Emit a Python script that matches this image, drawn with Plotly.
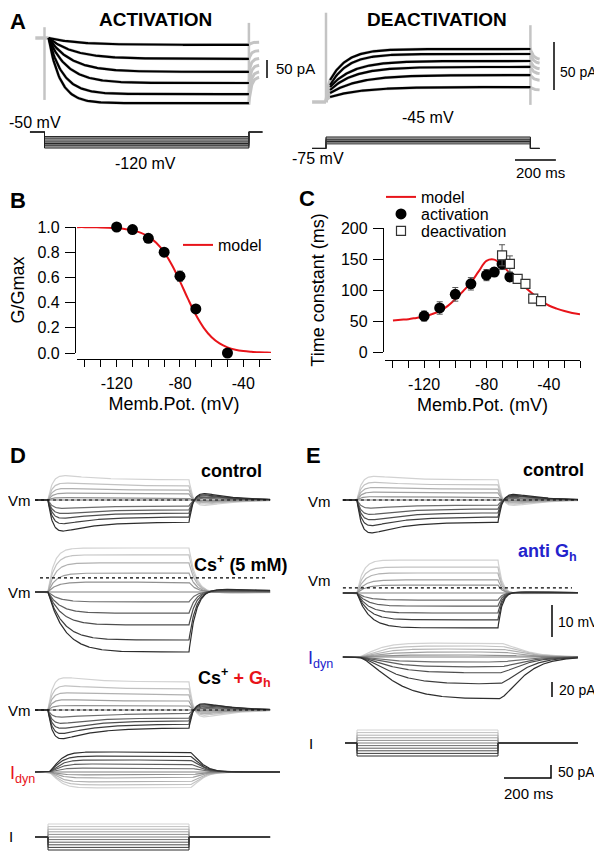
import numpy as np
import plotly.graph_objects as go

W, H = 602, 852
OX, OY = 8, 8          # page body margin: positions below are given in window pixels
FONT = "Liberation Sans, Arial, Helvetica, sans-serif"
RED = "#e8141a"
BLUE = "#2323cc"
GRAY = "#c4c4c4"

# ===================== DATA =====================
# ---- Panel A : activation (steps from -50 mV) ----
ACT_HOLD_MV = -50
ACT_STEP_MV = [-70, -80, -90, -100, -110, -120]
ACT_SS_PA = [-19, -58, -94, -125, -156, -181]        # steady-state of fitted current
ACT_TAU_MS = [141, 124, 110, 92, 70, 57]             # fitted time constants
ACT_PROTO_MV = [-70, -75, -80, -85, -90, -95, -100, -105, -110, -115, -120]

# ---- Panel A : deactivation ----
DEA_PRE_MV = -95
DEA_STEP_MV = [-70, -65, -60, -55, -50, -45]
DEA_START_PA = [5.2, 9.4, 12.5, 15.6, 17.7, 22.9]
DEA_SS_PA = [15.6, 28.1, 36.5, 42.7, 50.0, 55.2]
DEA_TAU_MS = [156, 142, 118, 110, 86, 82]
DEA_PROTO_MV = [-75, -70, -65, -60, -55, -50, -45]
STEP_A_MS = 1000
FIT_START_MS = 20

# ---- Panel B ----
B_V = [-120, -110, -100, -90, -80, -70, -50]
B_G = [1.00, 0.98, 0.91, 0.80, 0.61, 0.35, 0.00]
B_G_ERR = [0.01, 0.01, 0.02, 0.03, 0.04, 0.02, 0.01]
B_MODEL_V = [-145, -140, -135, -130, -125, -120, -115, -110, -105, -100, -95, -90, -85,
             -80, -75, -70, -65, -60, -55, -50, -45, -40, -35, -30, -25, -22]
B_MODEL_G = [0.999, 0.999, 0.998, 0.997, 0.995, 0.991, 0.985, 0.974, 0.955, 0.924, 0.875,
             0.800, 0.697, 0.569, 0.431, 0.303, 0.200, 0.125, 0.076, 0.045, 0.026, 0.015,
             0.009, 0.005, 0.003, 0.002]
B_XTICKS = [-120, -80, -40]
B_XMINOR = [-140, -130, -120, -110, -100, -90, -80, -70, -60, -50, -40, -30]
B_YTICKS = [0.0, 0.2, 0.4, 0.6, 0.8, 1.0]

# ---- Panel C ----
C_ACT_V = [-120, -110, -100, -90, -80, -75, -70, -65]
C_ACT_TAU = [58, 71, 93, 110, 124, 129, 142, 121]
C_ACT_ERR = [8, 10, 11, 10, 9, 7, 9, 7]
C_DEA_V = [-70, -65, -60, -55, -50, -45]
C_DEA_TAU = [156, 142, 118, 110, 86, 82]
C_DEA_ERR = [17, 13, 5, 4, 3, 3]
C_MODEL_V = [-140, -135, -130, -125, -120, -115, -110, -105, -100, -95, -90, -85, -80,
             -75, -70, -65, -60, -55, -50, -45, -40, -35, -30, -25, -20]
C_MODEL_TAU = [51, 52, 53, 55, 57, 61, 66, 74, 85, 98, 112, 130, 147,
               149, 140, 127, 116, 104, 93, 83, 75, 70, 66, 63, 61]
C_XTICKS = [-120, -80, -40]
C_XMINOR = [-140, -130, -120, -110, -100, -90, -80, -70, -60, -50, -40, -30, -20]
C_YTICKS = [0, 50, 100, 150, 200]

# ---- Panels D / E (11 current steps) ----
I_INJ_PA = [50, 40, 30, 20, 10, 0, -10, -20, -30, -40, -50]
STEP_DE_MS = 600
D_CTRL_SS = [6.3, 4.4, 3.1, 1.9, 0.6, 0.0, -1.9, -3.1, -4.1, -5.3, -6.9]
D_CTRL_SAG = [2.7, 1.8, 1.1, 0.5, 0.3, 0.0, -1.4, -2.2, -3.1, -4.1, -5.4]
D_CTRL_REB = [-3.8, -2.8, -2.0, -1.3, -0.5, 0.0, 1.2, 2.0, 2.8, 3.6, 4.4]
D_CS_SS = [13.75, 11.6, 9.1, 5.9, 3.1, 0.0, -3.1, -6.6, -10.3, -15.0, -18.75]
D_CS_TAU = [25, 27, 30, 33, 36, 40, 45, 50, 57, 63, 70]
D_CS_REB = [-0.6, -0.5, -0.4, -0.3, -0.1, 0.0, 0.4, 0.7, 1.0, 1.3, 1.6]
D_CS_REST_SHIFT = 4.4          # dotted line = control resting potential
D_GH_SS = [8.75, 6.6, 4.7, 2.8, 1.25, 0.0, -1.25, -2.5, -3.4, -4.4, -5.6]
D_GH_SAG = [2.9, 2.0, 1.4, 0.9, 0.3, 0.0, -1.8, -3.1, -4.3, -5.5, -6.3]
D_GH_REB = [-4.8, -3.6, -2.6, -1.6, -0.7, 0.0, 1.0, 1.9, 2.7, 3.5, 4.2]
D_IDYN_PA = [-21.3, -17.3, -13.3, -8.0, -4.0, 0.0, 5.3, 10.7, 16.0, 21.3, 26.7]

E_CTRL_SS = [6.3, 4.7, 3.4, 2.2, 0.9, 0.0, -1.6, -2.8, -4.0, -5.3, -6.9]
E_CTRL_SAG = [2.3, 1.7, 1.1, 0.6, 0.3, 0.0, -1.8, -3.2, -4.1, -5.1, -6.4]
E_CTRL_REB = [-3.8, -2.9, -2.1, -1.4, -0.6, 0.0, 1.0, 1.7, 2.5, 3.2, 3.9]
E_ANTI_SS = [10.3, 8.1, 6.25, 4.1, 2.5, 0.0, -2.2, -4.1, -6.25, -8.4, -10.9]
E_ANTI_TAU = [25, 27, 30, 33, 36, 40, 42, 44, 46, 48, 50]
E_ANTI_REB = [-0.3, -0.25, -0.2, -0.15, -0.05, 0.0, 0.1, 0.2, 0.3, 0.4, 0.5]
E_ANTI_REST_SHIFT = 1.6
E_IDYN_PA = [18.7, 14.7, 10.7, 6.7, 2.7, 0.0, -6.7, -13.3, -21.3, -36.0, -56.0]
E_IDYN_TAU = [45, 48, 52, 56, 60, 60, 65, 70, 74, 77, 80]

# scale bars
SB_A_ACT_PA = 50
SB_A_DEA_PA = 50
SB_A_MS = 200
SB_E_MV = 10
SB_E_IDYN_PA = 20
SB_E_I_PA = 50
SB_E_MS = 200

# ===================== FIGURE =====================
fig = go.Figure()
layout = {}
axes = {}
counter = [0]


def fx(xpx):
    return (xpx - OX) / W


def fy(ypx):
    return 1 - (ypx - OY) / H


def new_axes(name, t0px, sx, y0px, sy):
    """Hidden full-figure axes whose scale maps data units to window pixels."""
    counter[0] += 1
    n = counter[0]
    sfx = "" if n == 1 else str(n)
    t0 = t0px - OX
    y0 = y0px - OY
    layout["xaxis" + sfx] = dict(domain=[0, 1], range=[-t0 / sx, (W - t0) / sx],
                                 visible=False, fixedrange=True, anchor="y" + sfx,
                                 automargin=False)
    layout["yaxis" + sfx] = dict(domain=[0, 1], range=[(y0 - H) / sy, y0 / sy],
                                 visible=False, fixedrange=True, anchor="x" + sfx,
                                 automargin=False)
    axes[name] = dict(x="x" + sfx, y="y" + sfx, t0px=t0px, sx=sx, y0px=y0px, sy=sy)


def px_t(name, xpx):
    a = axes[name]
    return (xpx - a["t0px"]) / a["sx"]


def px_v(name, ypx):
    a = axes[name]
    return (a["y0px"] - ypx) / a["sy"]


def line(name, x, y, color="black", width=1.2, dash=None, shape="linear"):
    a = axes[name]
    fig.add_trace(go.Scatter(x=x, y=y, mode="lines", xaxis=a["x"], yaxis=a["y"],
                             line=dict(color=color, width=width, dash=dash, shape=shape),
                             showlegend=False, hoverinfo="skip"))


def shade(i, n=11):
    g = int(round(210 - i * (210 - 45) / (n - 1)))
    return "rgb(%d,%d,%d)" % (g, g, g)


# ---- A activation ----
SX_A = 0.2044
new_axes("act", 44.5, SX_A, 38, 0.36)
new_axes("actV", 44.5, SX_A, 132 - 50 * 0.229, 0.229)
new_axes("dea", 326, SX_A, 102, 0.96)
new_axes("deaV", 326, SX_A, 137 - 45 * 0.229, 0.229)

t_fit = np.linspace(FIT_START_MS, STEP_A_MS, 200)
# gray raw traces
line("act", [0, 0], [30, -172], GRAY, 2.5)
line("act", [STEP_A_MS, STEP_A_MS], [42, -186], GRAY, 2.5)
line("act", [-45, FIT_START_MS], [0, 0], GRAY, 3.5)
for ss, tau in zip(ACT_SS_PA, ACT_TAU_MS):
    fit = ss * (1 - np.exp(-(t_fit - FIT_START_MS) / tau))
    tt = np.linspace(0, 50, 20)
    tail = ss * (0.6 + 0.4 * np.exp(-tt / 12))
    x = np.concatenate([t_fit, STEP_A_MS + tt])
    y = np.concatenate([fit, tail])
    line("act", x, y, GRAY, 3.0)
for ss, tau in zip(ACT_SS_PA, ACT_TAU_MS):
    fit = ss * (1 - np.exp(-(t_fit - FIT_START_MS) / tau))
    line("act", t_fit, fit, "black", 2.2)
# protocol
for k, v in enumerate(ACT_PROTO_MV):
    line("actV", [-71, 0, 0, STEP_A_MS, STEP_A_MS, 1065],
         [ACT_HOLD_MV, ACT_HOLD_MV, v, v, ACT_HOLD_MV, ACT_HOLD_MV],
         "#1a1a1a" if k % 2 == 0 else "#666666", 1.0)
# scale bar
tb = px_t("act", 267)
yb = px_v("act", 78)
line("act", [tb, tb], [yb, yb + SB_A_ACT_PA], "black", 1.5)

# ---- A deactivation ----
line("dea", [0, 0], [0, 93], GRAY, 2.5)
line("dea", [STEP_A_MS, STEP_A_MS], [80, -3], GRAY, 2.5)
line("dea", [-68, 0], [0, 0], GRAY, 3.5)
for st, ss, tau in zip(DEA_START_PA, DEA_SS_PA, DEA_TAU_MS):
    fit = ss + (st - ss) * np.exp(-(t_fit - FIT_START_MS) / tau)
    tt = np.linspace(0, 45, 20)
    tail = ss * (0.8 + 0.2 * np.exp(-tt / 15))
    x = np.concatenate([[0, 6], t_fit, STEP_A_MS + tt])
    y = np.concatenate([[0, st * 0.6], fit, tail])
    line("dea", x, y, GRAY, 3.0)
for st, ss, tau in zip(DEA_START_PA, DEA_SS_PA, DEA_TAU_MS):
    fit = ss + (st - ss) * np.exp(-(t_fit - FIT_START_MS) / tau)
    line("dea", t_fit, fit, "black", 2.2)
for k, v in enumerate(DEA_PROTO_MV):
    line("deaV", [-68, 0, 0, STEP_A_MS, STEP_A_MS, 1045],
         [DEA_PRE_MV, DEA_PRE_MV, v, v, DEA_PRE_MV, DEA_PRE_MV],
         "#1a1a1a" if k % 2 == 0 else "#666666", 1.0)
tb = px_t("dea", 554)
yb = px_v("dea", 90)
line("dea", [tb, tb], [yb, yb + SB_A_DEA_PA], "black", 1.5)
t1 = px_t("dea", 515)
yb = px_v("dea", 160)
line("dea", [t1, t1 + SB_A_MS], [yb, yb], "black", 1.5)

# ---- D / E traces ----
SX_DE = 0.235
SY_V = 3.2
new_axes("Dctrl", 48, SX_DE, 500, SY_V)
new_axes("Dcs", 48, SX_DE, 592, SY_V)
new_axes("Dgh", 48, SX_DE, 710, SY_V)
new_axes("Didyn", 48, SX_DE, 772, 0.75)
new_axes("DI", 48, SX_DE, 837, 0.26)
new_axes("Ectrl", 357, SX_DE, 500, SY_V)
new_axes("Eanti", 357, SX_DE, 593, SY_V)
new_axes("Eidyn", 357, SX_DE, 657, 0.75)
new_axes("EI", 357, SX_DE, 743, 0.26)

T = STEP_DE_MS
t_on = np.linspace(0, T, 241)


def sag_curve(ss, sag, reb, t_pre, t_end, tm=20.0, th=130.0, tr=110.0):
    v1 = ss * (1 - np.exp(-t_on / tm)) + sag * (np.exp(-t_on / th) - np.exp(-t_on / tm))
    t2 = np.linspace(0, t_end - T, 161)
    v2 = v1[-1] * np.exp(-t2 / tm) + reb * (np.exp(-t2 / tr) - np.exp(-t2 / tm))
    return (np.concatenate([[t_pre], t_on, T + t2]),
            np.concatenate([[0], v1, v2]))


def relax_curve(ss, tau, reb, t_pre, t_end, toff=30.0, tr=300.0):
    v1 = ss * (1 - np.exp(-t_on / tau))
    t2 = np.linspace(0, t_end - T, 161)
    v2 = v1[-1] * np.exp(-t2 / toff) + reb * (np.exp(-t2 / tr) - np.exp(-t2 / toff))
    return (np.concatenate([[t_pre], t_on, T + t2]),
            np.concatenate([[0], v1, v2]))


def smooth_curve(amp, tau_on, tau_off, t_pre, t_end):
    v1 = amp * (1 - (1 + t_on / tau_on) * np.exp(-t_on / tau_on))
    t2 = np.linspace(0, t_end - T, 161)
    v2 = v1[-1] * (1 + t2 / tau_off) * np.exp(-t2 / tau_off)
    return (np.concatenate([[t_pre], t_on, T + t2]),
            np.concatenate([[0], v1, v2]))


for i in range(11):
    c = shade(i)
    x, y = sag_curve(D_CTRL_SS[i], D_CTRL_SAG[i], D_CTRL_REB[i], -55, 945)
    line("Dctrl", x, y, c)
    x, y = relax_curve(D_CS_SS[i], D_CS_TAU[i], D_CS_REB[i], -55, 945)
    line("Dcs", x, y, c)
    x, y = sag_curve(D_GH_SS[i], D_GH_SAG[i], D_GH_REB[i], -55, 945)
    line("Dgh", x, y, c)
    x, y = smooth_curve(D_IDYN_PA[i], 25, 28, -55, 987)
    line("Didyn", x, y, c)
    line("DI", [-55, 0, 0, T, T, 945], [0, 0, I_INJ_PA[i], I_INJ_PA[i], 0, 0], c, 1.0)

    x, y = sag_curve(E_CTRL_SS[i], E_CTRL_SAG[i], E_CTRL_REB[i], -60, 940)
    line("Ectrl", x, y, c)
    x, y = relax_curve(E_ANTI_SS[i], E_ANTI_TAU[i], E_ANTI_REB[i], -60, 940, toff=18)
    line("Eanti", x, y, c)
    x, y = smooth_curve(E_IDYN_PA[i], E_IDYN_TAU[i], 60, -60, 940)
    line("Eidyn", x, y, c)
    line("EI", [-51, 0, 0, T, T, 940], [0, 0, I_INJ_PA[i], I_INJ_PA[i], 0, 0], c, 1.0)

# dotted reference lines (resting potential)
line("Dctrl", [-55, 945], [0, 0], "black", 1.2, "dot")
line("Dcs", [-34, 936], [D_CS_REST_SHIFT, D_CS_REST_SHIFT], "black", 1.2, "dot")
line("Dgh", [-55, 936], [0, 0], "black", 1.2, "dot")
line("Ectrl", [-60, 940], [0, 0], "black", 1.2, "dot")
line("Eanti", [-60, 915], [E_ANTI_REST_SHIFT, E_ANTI_REST_SHIFT], "black", 1.2, "dot")

# E scale bars
tb = px_t("Eanti", 552)
yb = px_v("Eanti", 637)
line("Eanti", [tb, tb], [yb, yb + SB_E_MV], "black", 1.5)
tb = px_t("Eidyn", 552)
yb = px_v("Eidyn", 697)
line("Eidyn", [tb, tb], [yb, yb + SB_E_IDYN_PA], "black", 1.5)
tb = px_t("EI", 551)
yb = px_v("EI", 778)
line("EI", [tb - SB_E_MS, tb, tb], [yb, yb, yb + SB_E_I_PA], "black", 1.5)

# ---- Panels B & C axes ----
TICKFONT = dict(family=FONT, size=16, color="black")
TITLEFONT = dict(family=FONT, size=18, color="black")


def xax(dom, rng, ypos, major, minor):
    return dict(domain=[fx(dom[0]), fx(dom[1])], range=rng, anchor="free", position=fy(ypos),
                showline=True, linecolor="black", linewidth=1.3, ticks="outside", ticklen=7,
                tickwidth=1.3, tickcolor="black", tickvals=major,
                ticktext=[str(v) for v in major], showgrid=False, zeroline=False,
                minor=dict(tickvals=minor, ticks="outside", ticklen=7, tickwidth=1.3,
                           tickcolor="black", showgrid=False),
                tickfont=TICKFONT, ticklabelstandoff=3, automargin=False,
                title=dict(text="Memb.Pot. (mV)", font=TITLEFONT, standoff=6),
                fixedrange=True)


def yax(dom, rng, xpos, ticks, text, title, standoff):
    return dict(domain=[fy(dom[1]), fy(dom[0])], range=rng, anchor="free",
                position=fx(xpos), showline=True, linecolor="black", linewidth=1.3,
                ticks="outside", ticklen=10, tickwidth=1.3, tickcolor="black",
                tickvals=ticks, ticktext=text, showgrid=False, zeroline=False,
                tickfont=TICKFONT, ticklabelstandoff=2, automargin=False,
                title=dict(text=title, font=TITLEFONT, standoff=standoff), fixedrange=True)


counter[0] += 1
nb = str(counter[0])
layout["xaxis" + nb] = xax((77, 271), [-145.05, -22.5], 359, B_XTICKS, B_XMINOR)
layout["yaxis" + nb] = yax((227, 353), [0, 1], 75, B_YTICKS,
                           ["%.1f" % v for v in B_YTICKS], "G/Gmax", 12)
fig.add_trace(go.Scatter(x=B_MODEL_V, y=B_MODEL_G, mode="lines", name="model",
                         line=dict(color=RED, width=2, shape="spline"),
                         xaxis="x" + nb, yaxis="y" + nb, legend="legend", hoverinfo="skip"))
fig.add_trace(go.Scatter(x=B_V, y=B_G, mode="markers", showlegend=False, cliponaxis=False,
                         marker=dict(color="black", size=11),
                         error_y=dict(type="data", array=B_G_ERR, color="#555", thickness=1, width=3),
                         xaxis="x" + nb, yaxis="y" + nb, hoverinfo="skip"))

counter[0] += 1
nc = str(counter[0])
layout["xaxis" + nc] = xax((385, 580), [-145.1, -20.0], 360, C_XTICKS, C_XMINOR)
layout["yaxis" + nc] = yax((228, 352), [0, 200], 383, C_YTICKS,
                           [str(v) for v in C_YTICKS], "Time constant (ms)", 10)
fig.add_trace(go.Scatter(x=C_MODEL_V, y=C_MODEL_TAU, mode="lines", name="model",
                         line=dict(color=RED, width=2, shape="spline"),
                         xaxis="x" + nc, yaxis="y" + nc, legend="legend2", hoverinfo="skip"))
fig.add_trace(go.Scatter(x=C_ACT_V, y=C_ACT_TAU, mode="markers", name="activation",
                         cliponaxis=False, marker=dict(color="black", size=11),
                         error_y=dict(type="data", array=C_ACT_ERR, color="#555", thickness=1, width=3),
                         xaxis="x" + nc, yaxis="y" + nc, legend="legend3", hoverinfo="skip"))
fig.add_trace(go.Scatter(x=C_DEA_V, y=C_DEA_TAU, mode="markers", name="deactivation",
                         cliponaxis=False,
                         marker=dict(symbol="square", color="white", size=9,
                                     line=dict(color="#333", width=1.2)),
                         error_y=dict(type="data", array=C_DEA_ERR, color="#555", thickness=1, width=3),
                         xaxis="x" + nc, yaxis="y" + nc, legend="legend4", hoverinfo="skip"))


def leg(xpx, ypx):
    return dict(x=fx(xpx), y=fy(ypx), xanchor="left", yanchor="middle",
                bgcolor="rgba(0,0,0,0)", borderwidth=0, itemsizing="trace",
                font=dict(family=FONT, size=16, color="black"), tracegroupgap=0)


layout["legend"] = leg(178, 245)
layout["legend2"] = leg(381, 197)
layout["legend3"] = leg(381, 214)
layout["legend4"] = leg(381, 231)

# ===================== TEXT =====================
def ann(text, x, y, size=15, color="black", xanchor="center"):
    return dict(text=text, x=fx(x), y=fy(y), xref="paper", yref="paper", showarrow=False,
                font=dict(family=FONT, size=size, color=color), xanchor=xanchor,
                yanchor="middle", borderpad=0)


anns = [
    ann("<b>A</b>", 9, 21, 22, xanchor="left"), ann("<b>ACTIVATION</b>", 155, 20, 19),
    ann("<b>DEACTIVATION</b>", 437, 20, 19),
    ann("50 pA", 275, 69, 15, xanchor="left"), ann("50 pA", 559, 72, 14, xanchor="left"),
    ann("-50 mV", 8, 122, 16, xanchor="left"), ann("-120 mV", 145, 163, 16),
    ann("-45 mV", 428, 118, 16), ann("-75 mV", 318, 158, 16), ann("200 ms", 540, 172, 15),
    ann("<b>B</b>", 9, 200, 22, xanchor="left"), ann("<b>C</b>", 307, 199, 22),
    ann("<b>D</b>", 9, 455, 22, xanchor="left"), ann("<b>E</b>", 313, 455, 22),
    ann("<b>control</b>", 231, 471, 18), ann("<b>control</b>", 553, 470, 18),
    ann("<b>Cs<sup>+</sup> (5 mM)</b>", 240, 563, 18),
    ann("<b>Cs<sup>+</sup> <span style='color:%s'>+ G<sub>h</sub></span></b>" % RED, 234, 677, 18),
    ann("<b>anti G<sub>h</sub></b>", 547, 552, 18, BLUE),
    ann("Vm", 19, 500, 15), ann("Vm", 19, 592, 15), ann("Vm", 19, 710, 15),
    ann("Vm", 319, 501, 15), ann("Vm", 319, 580, 15),
    ann("I<sub>dyn</sub>", 9, 774, 18, RED, "left"), ann("I<sub>dyn</sub>", 307, 659, 18, BLUE, "left"),
    ann("I", 11, 836, 15), ann("I", 311, 743, 15),
    ann("10 mV", 557, 622, 14, xanchor="left"), ann("20 pA", 558, 690, 14, xanchor="left"),
    ann("50 pA", 557, 772, 14, xanchor="left"), ann("200 ms", 528, 793, 15),
]

fig.update_layout(
    width=W, height=H, margin=dict(l=0, r=0, t=0, b=0, autoexpand=False),
    paper_bgcolor="white", plot_bgcolor="rgba(0,0,0,0)",
    font=dict(family=FONT, color="black"), showlegend=True,
    annotations=anns, hovermode=False, **layout)

fig.write_html("out.html")
